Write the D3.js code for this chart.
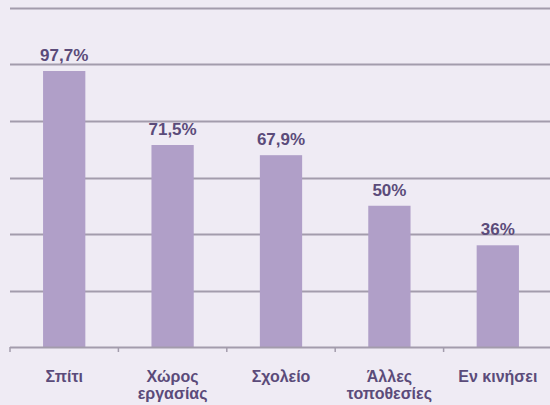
<!DOCTYPE html>
<html>
<head>
<meta charset="utf-8">
<script src="https://cdn.jsdelivr.net/npm/d3@7"></script>
<style>
  body { margin: 0; background: #efebf4; }
  svg { display: block; }
</style>
</head>
<body>
<svg id="chart"></svg>
<script>
const categories = ["Σπίτι", "Χώρος εργασίας", "Σχολείο", "Άλλες τοποθεσίες", "Εν κινήσει"];
const categoryLines = [["Σπίτι"], ["Χώρος", "εργασίας"], ["Σχολείο"], ["Άλλες", "τοποθεσίες"], ["Εν κινήσει"]];
const values = [97.7, 71.5, 67.9, 50, 36];
const valueLabels = ["97,7%", "71,5%", "67,9%", "50%", "36%"];
const gridTicks = [0, 20, 40, 60, 80, 100, 120];

const width = 550, height = 405;
const margin = {top: 8, right: -2, bottom: 58, left: 10};

const svg = d3.select("#chart")
    .attr("width", width)
    .attr("height", height);

svg.append("rect")
    .attr("width", width).attr("height", height)
    .attr("fill", "#efebf4");

const x = d3.scaleBand()
    .domain(categories)
    .range([margin.left, width - margin.right])
    .paddingInner(0.61)
    .paddingOuter(0.305);

const y = d3.scaleLinear()
    .domain([0, 120])
    .range([height - margin.bottom, margin.top]);

// gridlines
svg.append("g")
    .selectAll("line")
    .data(gridTicks.slice(1))
    .join("line")
    .attr("x1", margin.left)
    .attr("x2", width)
    .attr("y1", d => Math.round(y(d)) + 0.5)
    .attr("y2", d => Math.round(y(d)) + 0.5)
    .attr("stroke", "#a39cac")
    .attr("stroke-width", 2);

// bars
svg.append("g")
    .selectAll("rect")
    .data(values)
    .join("rect")
    .attr("x", (d, i) => x(categories[i]))
    .attr("width", x.bandwidth())
    .attr("y", d => y(d))
    .attr("height", d => y(0) - y(d))
    .attr("fill", "#b09fc8");

// x axis
const step = x.step();
const boundaries = d3.range(categories.length + 1).map(i => margin.left + i * step);
const axis = svg.append("g").attr("stroke", "#a39cac").attr("stroke-width", 2);
axis.append("line")
    .attr("x1", margin.left).attr("x2", width)
    .attr("y1", y(0) + 0.5).attr("y2", y(0) + 0.5);
axis.selectAll("line.tick")
    .data(boundaries)
    .join("line")
    .attr("class", "tick")
    .attr("x1", d => d).attr("x2", d => d)
    .attr("y1", y(0)).attr("y2", y(0) + 5)
    .attr("stroke-width", 1.5);

// value labels
svg.append("g")
    .selectAll("text")
    .data(values)
    .join("text")
    .attr("x", (d, i) => x(categories[i]) + x.bandwidth() / 2)
    .attr("y", d => y(d) - 10)
    .attr("text-anchor", "middle")
    .attr("font-family", "Liberation Sans, Arial, sans-serif")
    .attr("font-weight", "bold")
    .attr("font-size", 17)
    .attr("fill", "#5b4b7a")
    .text((d, i) => valueLabels[i]);

// category labels
const cat = svg.append("g")
    .selectAll("text")
    .data(categories)
    .join("text")
    .attr("text-anchor", "middle")
    .attr("font-family", "Liberation Sans, Arial, sans-serif")
    .attr("font-weight", "bold")
    .attr("font-size", 16)
    .attr("fill", "#5b4b7a")
    .attr("transform", d => `translate(${x(d) + x.bandwidth() / 2},${y(0) + 35})`);

cat.selectAll("tspan")
    .data((d, i) => categoryLines[i])
    .join("tspan")
    .attr("x", 0)
    .attr("dy", (d, i) => i === 0 ? 0 : 17)
    .text(d => d);
</script>
</body>
</html>
